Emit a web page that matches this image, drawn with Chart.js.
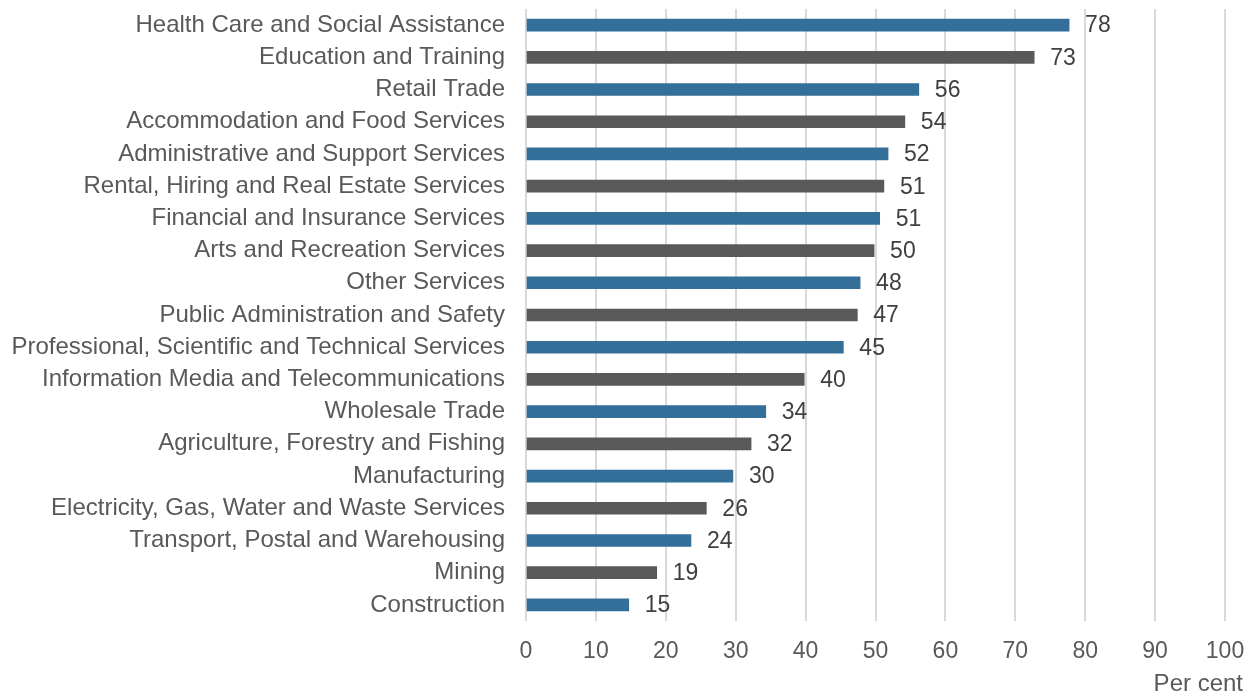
<!DOCTYPE html>
<html>
<head>
<meta charset="utf-8">
<script src="https://cdn.jsdelivr.net/npm/chart.js@4"></script>
<style>
  html, body { margin: 0; padding: 0; background: #fff; }
  #wrap { width: 1259px; height: 694px; }
</style>
</head>
<body>
<div id="wrap"><canvas id="myChart"></canvas></div>
<script>
var industries = [
    "Health Care and Social Assistance",
    "Education and Training",
    "Retail Trade",
    "Accommodation and Food Services",
    "Administrative and Support Services",
    "Rental, Hiring and Real Estate Services",
    "Financial and Insurance Services",
    "Arts and Recreation Services",
    "Other Services",
    "Public Administration and Safety",
    "Professional, Scientific and Technical Services",
    "Information Media and Telecommunications",
    "Wholesale Trade",
    "Agriculture, Forestry and Fishing",
    "Manufacturing",
    "Electricity, Gas, Water and Waste Services",
    "Transport, Postal and Warehousing",
    "Mining",
    "Construction"
];
var perCent = [77.7, 72.7, 56.2, 54.2, 51.8, 51.2, 50.6, 49.8, 47.8, 47.4, 45.4, 39.8, 34.3, 32.2, 29.6, 25.8, 23.6, 18.7, 14.7];
var xTicks = [0, 10, 20, 30, 40, 50, 60, 70, 80, 90, 100];

var BLUE = "#336f98";
var GREY = "#595959";
var FONT = "'Liberation Sans', Arial, sans-serif";

var barColours = perCent.map(function (v, i) { return i % 2 === 0 ? BLUE : GREY; });

// value labels at bar ends + "Per cent" under the axis
var labelsPlugin = {
    id: "labels",
    afterDatasetsDraw: function (chart) {
        var ctx = chart.ctx;
        var meta = chart.getDatasetMeta(0);
        ctx.save();
        ctx.font = "23px " + FONT;
        ctx.fillStyle = "#404040";
        ctx.textAlign = "left";
        ctx.textBaseline = "middle";
        meta.data.forEach(function (bar, i) {
            ctx.fillText(Math.round(perCent[i]), bar.x + 16, bar.y + 1);
        });
        ctx.fillStyle = "#595959";
        ctx.font = "24px " + FONT;
        ctx.textAlign = "right";
        ctx.fillText("Per cent", chart.chartArea.right + 18, 684);
        ctx.restore();
    }
};

var ctx = document.getElementById("myChart").getContext("2d");
var myChart = new Chart(ctx, {
    type: "bar",
    data: {
        labels: industries,
        datasets: [{
            data: perCent,
            backgroundColor: barColours,
            barThickness: 12
        }]
    },
    options: {
        indexAxis: "y",
        responsive: true,
        maintainAspectRatio: false,
        animation: false,
        layout: { padding: { top: 9, right: 34, left: 0, bottom: 0 } },
        plugins: {
            legend: { display: false },
            tooltip: { enabled: false }
        },
        scales: {
            x: {
                min: 0,
                max: 100,
                afterBuildTicks: function (scale) {
                    scale.ticks = xTicks.map(function (v) { return { value: v }; });
                },
                afterFit: function (scale) {
                    scale.height = 73;
                    scale.paddingLeft = 0;
                    scale.paddingRight = 0;
                },
                grid: { color: "#d9d9d9", lineWidth: 2, drawTicks: false },
                border: { display: false },
                ticks: {
                    color: "#595959",
                    font: { family: FONT, size: 23 },
                    padding: 17
                }
            },
            y: {
                afterFit: function (scale) {
                    scale.width = 526;
                    scale.paddingTop = 0;
                    scale.paddingBottom = 0;
                },
                grid: { display: false, drawTicks: false },
                border: { display: false },
                ticks: {
                    color: "#595959",
                    font: { family: FONT, size: 24 },
                    padding: 21,
                    autoSkip: false
                }
            }
        }
    },
    plugins: [labelsPlugin]
});
</script>
</body>
</html>
